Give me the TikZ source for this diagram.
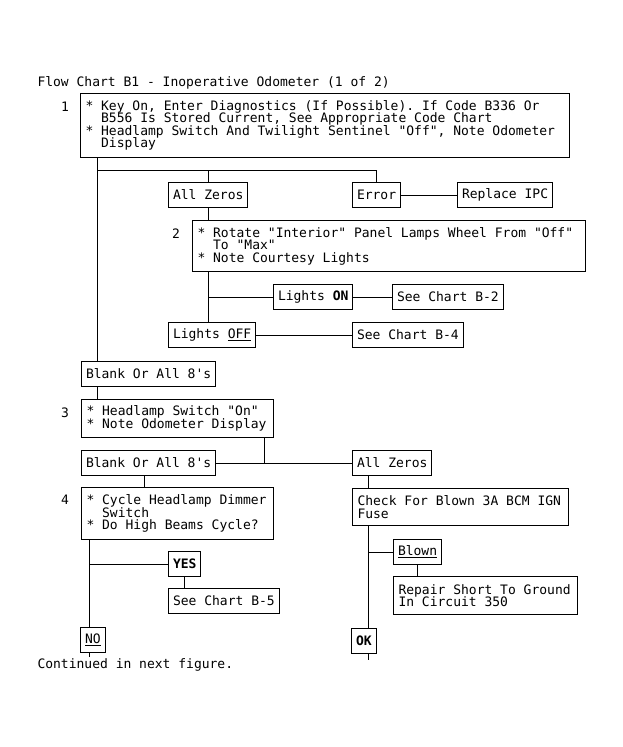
\documentclass[tikz,border=0pt]{standalone}
\usepackage{fontspec}
\setmonofont{DejaVu Sans Mono}
\usetikzlibrary{positioning}
\newcommand{\chartfont}{\ttfamily\fontsize{13pt}{12.5pt}\selectfont}
\newcommand{\hangin}{\phantom{*\ }}

\begin{document}
\begin{tikzpicture}[x=1pt,y=-1pt,line width=1pt,
  every node/.style={font=\chartfont},
  lbl/.style={draw,anchor=north west,inner xsep=4.5pt,inner ysep=0pt,minimum height=25pt},
  stepbox/.style={draw,anchor=north west,inner xsep=5pt,inner ysep=0pt,align=left,
    execute at begin node={\chartfont\spaceskip=0pt\xspaceskip=0pt\lineskiplimit=-6pt}},
  num/.style={anchor=base,inner sep=0pt}]
\useasboundingbox (0,0) rectangle (623,747);
\node[anchor=base west,inner sep=0pt] (title) at (37,86) {Flow Chart B1 - Inoperative Odometer (1 of 2)};
% step 1
\node[stepbox,text width=479pt,minimum height=64pt] (b1) at (80,93)
  {{*} Key On, Enter Diagnostics (If Possible). If Code B336 Or\\
   \hangin B556 Is Stored Current, See Appropriate Code Chart\\
   {*} Headlamp Switch And Twilight Sentinel "Off", Note Odometer\\
   \hangin Display};
\node[num] (n1) at (65,111) {1};
\node[lbl] (zeros) at (168,182) {All Zeros};
\node[lbl] (err) at (352,182) {Error};
\node[lbl] (ipc) at (457,182) {Replace IPC};
% step 2
\node[stepbox,text width=383pt,minimum height=51pt] (b2) at (192,220)
  {{*} Rotate "Interior" Panel Lamps Wheel From "Off"\\
   \hangin To "Max"\\
   {*} Note Courtesy Lights};
\node[num] (n2) at (176,238) {2};
\node[lbl] (lon) at (273,284) {Lights \textbf{ON}};
\node[lbl] (chb2) at (392,284) {See Chart B-2};
\node[lbl] (loff) at (168,322) {Lights \underline{OFF}};
\node[lbl] (chb4) at (352,322) {See Chart B-4};
\node[lbl] (blank1) at (81,361) {Blank Or All 8's};
% step 3
\node[stepbox,text width=182pt,minimum height=38pt] (b3) at (81,399)
  {{*} Headlamp Switch "On"\\
   {*} Note Odometer Display};
\node[num] (n3) at (65,417) {3};
\node[lbl] (blank2) at (81,450) {Blank Or All 8's};
\node[lbl] (zeros2) at (352,450) {All Zeros};
% step 4
\node[stepbox,text width=182pt,minimum height=52pt] (b4) at (81,487)
  {{*} Cycle Headlamp Dimmer\\
   \hangin Switch\\
   {*} Do High Beams Cycle?};
\node[num] (n4) at (65,504) {4};
\node[stepbox,text width=206pt,minimum height=37pt] (fuse) at (352,488)
  {Check For Blown 3A BCM IGN\\
   Fuse};
\node[lbl] (yes) at (168,551) {\textbf{YES}};
\node[lbl] (chb5) at (168,588) {See Chart B-5};
\node[lbl] (blown) at (393,539) {\underline{Blown}};
\node[stepbox,text width=174pt,minimum height=38pt] (repair) at (393,576)
  {Repair Short To Ground\\
   In Circuit 350};
\node[lbl] (no) at (80,627) {\underline{NO}};
\node[lbl] (ok) at (351,628) {\textbf{OK}};
\node[anchor=base west,inner sep=0pt] (cont) at (37,668) {Continued in next figure.};
% trunk points
\coordinate (jA) at (97,170);
\coordinate (xC) at (144,0);
\coordinate (okend) at (368,660);
\coordinate (noend) at (89,657);
% connectors
\draw (b1.south -| jA) -- (blank1.north -| jA);
\draw (jA) -| (err.north);
\draw (zeros.north) -- (zeros.north |- jA);
\draw (err.east) -- (ipc.west);
\draw (zeros.south) -- (zeros.south |- b2.north);
\draw (b2.south -| zeros.south) -- (loff.north -| zeros.south);
\draw (lon.west) -- (lon.west -| zeros.south);
\draw (lon.east) -- (chb2.west);
\draw (loff.east) -- (chb4.west);
\draw (blank1.south -| jA) -- (b3.north -| jA);
\draw (blank2.east) -- (zeros2.west);
\coordinate (jB) at (blank2.east -| 264,0);
\draw (b3.south -| jB) -- (jB);
\draw (blank2.south -| xC) -- (b4.north -| xC);
\draw (zeros2.south -| okend) -- (fuse.north -| okend);
\draw (fuse.south -| okend) -- (ok.north -| okend);
\draw (ok.south -| okend) -- (okend);
\draw (blown.west) -- (blown.west -| okend);
\draw (blown.south) -- (repair.north -| blown.south);
\draw (b4.south -| noend) -- (no.north -| noend);
\draw (no.south -| noend) -- (noend);
\draw (yes.west) -- (yes.west -| noend);
\draw (yes.south) -- (chb5.north -| yes.south);
\end{tikzpicture}
\end{document}
